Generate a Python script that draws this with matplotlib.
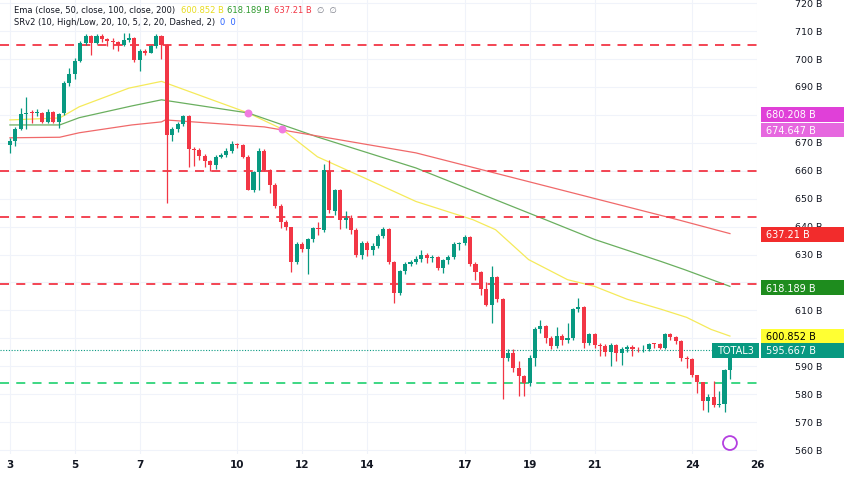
import matplotlib.pyplot as plt
from matplotlib.patches import Rectangle
import numpy as np

# 4h candles, TOTAL3 (in B)
opens = [669.3, 670.8, 674.9, 680.2, 680.8, 680.6, 680.8, 677.6, 681.2, 677.6,
         680.8, 691.3, 694.5, 699.4, 705.8, 708.2, 705.8, 708.2, 707.1, 706.4,
         706.0, 705.0, 706.8, 707.6, 699.6, 703.0, 702.2, 704.6, 708.2, 705.0,
         672.8, 674.9, 676.7, 679.6, 667.7, 667.5, 665.4, 663.6, 662.1, 665.1,
         665.7, 667.1, 669.5, 669.2, 665.1, 653.2, 659.4, 667.1, 660.3, 655.0,
         647.3, 641.5, 639.8, 627.4, 633.9, 632.1, 635.4, 639.5, 638.7, 659.8,
         645.5, 653.0, 642.3, 643.1, 638.9, 630.0, 634.2, 631.5, 633.2, 636.8,
         639.0, 627.4, 616.3, 624.0, 626.7, 627.3, 628.5, 630.0, 628.8, 629.2,
         625.2, 627.9, 629.0, 633.9, 634.2, 636.2, 626.7, 623.7, 617.7, 612.1,
         622.0, 613.9, 593.1, 594.9, 589.5, 586.5, 583.9, 593.1, 603.2, 604.4,
         600.2, 597.3, 600.8, 599.4, 600.2, 610.6, 611.3, 598.5, 601.4, 597.6,
         597.3, 595.1, 597.6, 594.9, 596.3, 596.9, 596.1, 596.0, 596.1, 598.1,
         597.9, 596.7, 601.4, 600.6, 599.0, 593.1, 592.7, 586.8, 584.2, 577.6,
         579.1, 576.1, 576.4, 588.7]
closes = [670.8, 674.9, 680.2, 680.8, 680.6, 681.0, 677.6, 681.2, 677.6, 680.2,
          691.3, 694.5, 699.4, 705.8, 708.2, 705.8, 708.2, 707.1, 706.4, 706.0,
          705.0, 706.8, 707.6, 699.6, 703.0, 702.2, 704.6, 708.2, 705.0, 672.8,
          674.9, 676.7, 679.6, 667.7, 667.5, 665.4, 663.6, 662.1, 665.1, 665.7,
          667.1, 669.5, 669.2, 665.1, 653.2, 659.4, 667.1, 660.3, 655.0, 647.3,
          641.5, 639.8, 627.4, 633.9, 632.1, 635.4, 639.5, 639.0, 660.1, 645.8,
          653.0, 642.3, 643.1, 638.9, 630.0, 634.2, 631.5, 633.2, 636.8, 639.0,
          627.4, 616.3, 624.0, 626.7, 627.3, 628.5, 630.0, 628.8, 629.2, 625.2,
          627.9, 629.0, 633.9, 634.2, 636.2, 626.7, 623.7, 617.7, 612.1, 622.0,
          613.9, 593.1, 594.9, 589.5, 586.5, 583.9, 593.1, 603.2, 604.4, 600.2,
          597.3, 600.8, 599.4, 600.2, 610.6, 611.3, 598.5, 601.4, 597.6, 597.3,
          595.1, 597.6, 594.9, 596.3, 596.9, 596.1, 596.0, 596.1, 598.1, 597.9,
          596.7, 601.4, 600.6, 599.0, 593.1, 592.7, 586.8, 584.2, 577.6, 579.1,
          576.1, 576.4, 588.7, 595.7]
highs = [671.7, 675.5, 682.4, 686.3, 681.8, 682.0, 681.2, 682.0, 681.5, 680.8,
         692.0, 696.7, 700.5, 706.5, 708.8, 708.5, 708.8, 708.8, 707.5, 707.5,
         706.5, 709.2, 709.5, 708.0, 703.5, 703.5, 705.0, 708.8, 708.5, 705.5,
         675.5, 677.5, 680.0, 679.8, 668.5, 668.0, 666.0, 664.0, 665.8, 666.5,
         668.0, 670.5, 670.0, 669.5, 665.5, 660.0, 668.0, 667.8, 660.5, 655.5,
         648.0, 642.5, 640.0, 634.5, 634.5, 636.0, 640.0, 641.5, 662.4, 663.9,
         653.5, 653.5, 645.5, 644.0, 639.5, 635.0, 635.0, 634.0, 637.5, 640.0,
         639.5, 627.8, 624.5, 627.5, 628.0, 629.5, 631.5, 630.5, 630.0, 629.5,
         628.5, 630.0, 634.5, 634.5, 637.0, 636.5, 627.5, 624.0, 620.0, 626.0,
         622.3, 614.5, 596.0, 596.0, 592.0, 587.0, 594.0, 604.0, 606.5, 604.8,
         601.0, 604.0, 601.5, 605.5, 611.0, 614.5, 611.5, 602.0, 602.0, 598.5,
         598.0, 598.5, 598.0, 597.0, 597.5, 597.5, 597.0, 597.5, 598.5, 598.5,
         598.5, 601.8, 601.8, 601.0, 599.5, 593.5, 593.0, 587.0, 584.5, 580.0,
         584.8, 581.0, 589.0, 596.0]
lows = [666.3, 668.7, 674.5, 674.9, 677.0, 679.5, 677.0, 677.0, 677.0, 675.2,
        680.0, 690.5, 693.0, 699.0, 705.0, 701.4, 705.5, 706.0, 704.6, 703.5,
        703.0, 704.5, 706.0, 699.0, 695.8, 701.5, 702.0, 704.0, 700.0, 648.5,
        670.8, 674.0, 676.0, 661.5, 661.7, 664.0, 661.5, 659.8, 660.5, 664.5,
        665.0, 666.5, 668.0, 664.5, 653.0, 652.5, 653.0, 660.0, 652.0, 646.5,
        639.5, 638.8, 623.7, 626.5, 631.0, 622.9, 634.5, 637.0, 638.0, 645.0,
        644.0, 639.0, 639.5, 637.5, 629.0, 628.5, 629.5, 630.0, 632.5, 636.0,
        626.5, 612.7, 615.5, 623.0, 626.0, 626.5, 627.5, 627.0, 627.5, 624.5,
        623.5, 626.5, 628.5, 631.5, 633.5, 626.0, 621.0, 615.5, 611.5, 605.6,
        613.0, 578.2, 592.0, 588.0, 579.4, 579.4, 583.0, 590.0, 602.0, 598.5,
        596.0, 596.5, 597.5, 598.5, 599.5, 609.5, 596.5, 597.5, 596.5, 593.5,
        593.5, 590.1, 592.0, 590.5, 595.0, 593.5, 595.0, 595.2, 595.5, 596.5,
        596.0, 596.0, 599.5, 598.0, 592.0, 589.5, 586.0, 580.5, 574.4, 573.5,
        575.5, 575.5, 573.5, 585.6]

# EMA curves read at a few candle indices
ema50_idx = [0, 9.2, 12.8, 22, 28, 44, 50.2, 56.8, 65.4, 75, 85.5, 89.7, 95.8, 103, 108, 114, 120.3, 125, 129.5, 133]
ema50_val = [678.2, 678.9, 682.9, 689.6, 692.0, 680.7, 675.0, 665.0, 657.5, 649.0, 642.5, 638.9, 628.2, 621.0, 618.6, 614.0, 610.4, 607.5, 603.2, 600.8]
ema100_idx = [0, 9.2, 12.8, 22.5, 28, 44, 56.8, 75, 98.9, 108, 120.3, 124.6, 133]
ema100_val = [676.4, 676.4, 679.0, 683.2, 685.4, 680.7, 672.1, 661.0, 642.5, 635.4, 627.5, 624.6, 618.6]
ema200_idx = [0, 9.2, 12.8, 22.5, 28, 28.7, 47, 75, 123.3, 133]
ema200_val = [671.8, 672.0, 673.6, 676.4, 677.5, 678.2, 675.7, 666.4, 642.5, 637.5]

cross_idx = [44, 50.2]
cross_val = [680.7, 675.0]

resistance = [705.2, 660.0, 643.4, 619.3]
support = [583.9]

day_labels = ["3", "5", "7", "10", "12", "14", "17", "19", "21", "24", "26"]
day_nums = [3, 5, 7, 10, 12, 14, 17, 19, 21, 24, 26]
price_ticks = list(range(560, 730, 10))
hidden_ticks = [680, 620, 600]  # covered by the price boxes

UP, DOWN = "#089981", "#f23645"

fig = plt.figure(figsize=(8.52, 4.85), dpi=100)
ax = fig.add_axes([0, 0.062, 0.8885, 0.938])
ax.set_xlim(-1.83, 136.8)
ax.set_ylim(558.6, 721.5)
ax.set_axisbelow(True)

x = np.arange(len(closes))
for i in x:
    col = UP if closes[i] >= opens[i] else DOWN
    ax.vlines(i, lows[i], highs[i], color=col, lw=0.9, zorder=3)
    lo, hi = min(opens[i], closes[i]), max(opens[i], closes[i])
    ax.bar(i, max(hi - lo, 0.3), bottom=lo, width=0.75, color=col, zorder=4)

ax.plot(ema50_idx, ema50_val, color="#f5ea5a", lw=0.9, zorder=2)
ax.plot(ema100_idx, ema100_val, color="#6aaf5f", lw=0.9, zorder=2)
ax.plot(ema200_idx, ema200_val, color="#f0696a", lw=0.9, zorder=2)
ax.scatter(cross_idx, cross_val, s=22, color="#f07ce0", zorder=5)

for lvl in resistance:
    ax.axhline(lvl, color="#f23645", lw=1.3, ls=(0, (5, 4)), zorder=2)
for lvl in support:
    ax.axhline(lvl, color="#2ed47a", lw=1.3, ls=(0, (5, 4)), zorder=2)
ax.axhline(595.667, color="#089981", lw=0.8, ls=(0, (1, 1.5)), zorder=2)

# grid
day_pos = [(d - 3) * 6 for d in day_nums]
ax.set_xticks(day_pos)
ax.set_xticklabels(day_labels, fontsize=7.5, color="#131722", fontweight="bold")
ax.set_yticks(price_ticks)
ax.grid(color="#f0f3fa", lw=0.8)
ax.tick_params(axis="y", left=False, labelleft=False)
ax.tick_params(axis="x", length=0, pad=4)
for s in ax.spines.values():
    s.set_visible(False)

# right price scale
ytr = ax.get_yaxis_transform()
for p in price_ticks:
    if p in hidden_ticks:
        continue
    ax.text(1.050, p, f"{p} B", transform=ytr, fontsize=6.8, color="#131722",
            ha="left", va="center", clip_on=False, zorder=1)

boxes = [(680.208, "680.208 B", "#e040d8", "white"),
         (674.647, "674.647 B", "#e668df", "white"),
         (637.21, "637.21 B", "#f22c2c", "white"),
         (618.189, "618.189 B", "#1e8c1e", "white"),
         (600.852, "600.852 B", "#ffff33", "black"),
         (595.667, "595.667 B", "#089981", "white")]
for val, txt, bg, fg in boxes:
    ax.add_patch(Rectangle((1.005, val - 2.6), 0.11, 5.2, transform=ytr, fc=bg, ec="none",
                           clip_on=False, zorder=9))
    ax.text(1.012, val, txt, transform=ytr, fontsize=7, color=fg, ha="left", va="center",
            clip_on=False, zorder=10)
ax.add_patch(Rectangle((0.94, 595.667 - 2.6), 0.062, 5.2, transform=ytr, fc="#089981",
                       ec="none", clip_on=False, zorder=9))
ax.text(0.996, 595.667, "TOTAL3", transform=ytr, fontsize=7, color="white", ha="right",
        va="center", clip_on=False, zorder=10)

# legend lines
fs = 6.0
fig.text(0.016, 0.979, "Ema (close, 50, close, 100, close, 200)", fontsize=fs, color="#131722", va="center")
fig.text(0.212, 0.979, "600.852 B", fontsize=fs, color="#e8dc20", va="center")
fig.text(0.267, 0.979, "618.189 B", fontsize=fs, color="#2e9a2e", va="center")
fig.text(0.322, 0.979, "637.21 B", fontsize=fs, color="#f23645", va="center")
fig.text(0.372, 0.979, "∅  ∅", fontsize=fs, color="#787b86", va="center")
fig.text(0.016, 0.953, "SRv2 (10, High/Low, 20, 10, 5, 2, 20, Dashed, 2)", fontsize=fs, color="#131722", va="center")
fig.text(0.258, 0.953, "0  0", fontsize=fs, color="#2962ff", va="center")

ax.scatter([133], [562.5], s=100, facecolor="none", edgecolor="#b43fe0", lw=1.3, zorder=5)

fig.savefig("out.png", dpi=100)
